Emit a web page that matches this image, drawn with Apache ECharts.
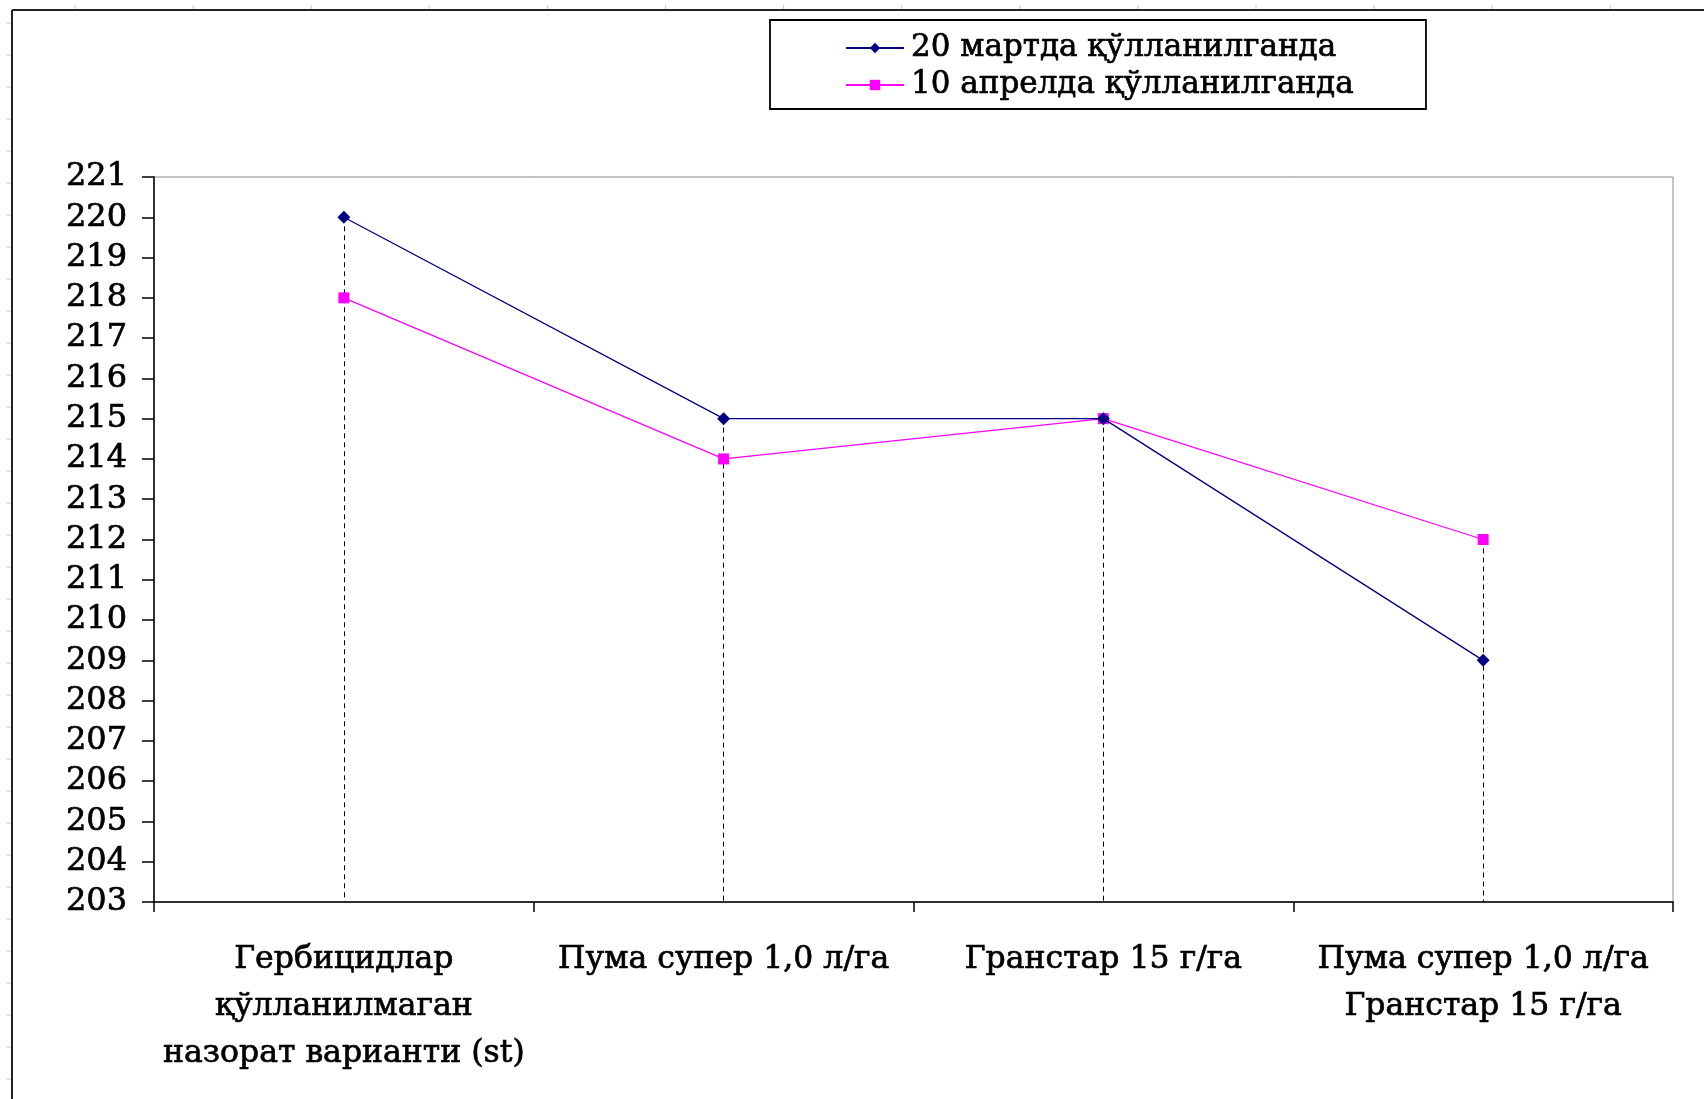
<!DOCTYPE html>
<html><head><meta charset="utf-8">
<script src="https://cdn.jsdelivr.net/npm/echarts@6/dist/echarts.min.js"></script>
<style>html,body{margin:0;padding:0;background:#fff}#c{width:1704px;height:1099px}</style>
</head><body><div id="c"></div>
<script>
const categories = [
  "Гербицидлар\nқўлланилмаган\nназорат варианти (st)",
  "Пума супер 1,0 л/га",
  "Гранстар 15 г/га",
  "Пума супер 1,0 л/га\nГранстар 15 г/га"
];
const seriesNames = ["20 мартда қўлланилганда", "10 апрелда қўлланилганда"];
const march20 = [220, 215, 215, 209];
const april10 = [218, 214, 215, 212];
const yMin = 203, yMax = 221, yStep = 1;

const FONT = "'DejaVu Serif','Liberation Serif',serif";
const HEAVY = {textBorderColor:'#000', textBorderWidth:0.7};
const chart = echarts.init(document.getElementById('c'));

// decorative page frame + faint ruler ticks
const graphics = [
  {type:'line', shape:{x1:12,y1:10,x2:1704,y2:10}, style:{stroke:'#222',lineWidth:2}},
  {type:'line', shape:{x1:12,y1:10,x2:12,y2:1099}, style:{stroke:'#222',lineWidth:2}}
];
for (let x = 75; x < 1704; x += 118.1) graphics.push({type:'line', shape:{x1:x,y1:5,x2:x,y2:9}, style:{stroke:'#c8c8c8',lineWidth:1}});
for (let y = 23; y < 1099; y += 32) graphics.push({type:'line', shape:{x1:6,y1:y,x2:11,y2:y}, style:{stroke:'#c8c8c8',lineWidth:1}});

const drops = categories.map((c, i) => [
  {coord:[i, Math.max(march20[i], april10[i])]},
  {coord:[i, yMin]}
]);

chart.setOption({
  backgroundColor:'#fff',
  animation:false,
  graphic: graphics,
  grid:{left:154, top:177, right:31, bottom:197, show:true, borderColor:'#888', borderWidth:1, backgroundColor:'transparent'},
  legend:{
    orient:'vertical', left:770, top:20,
    padding:[12, 72, 8, 75],
    itemGap:5, itemWidth:58, itemHeight:13,
    borderColor:'#000', borderWidth:1.8,
    textStyle:Object.assign({fontFamily:FONT, fontSize:31, color:'#000', lineHeight:32, padding:[0,0,0,2]}, HEAVY),
    data: seriesNames
  },
  xAxis:{
    type:'category', data:categories, boundaryGap:true,
    axisLine:{lineStyle:{color:'#000', width:1.5}},
    axisTick:{show:true, length:10, alignWithLabel:false, lineStyle:{color:'#000', width:1.5}},
    axisLabel:Object.assign({fontFamily:FONT, fontSize:31.5, color:'#000', lineHeight:47, margin:34, interval:0}, HEAVY)
  },
  yAxis:{
    type:'value', min:yMin, max:yMax, interval:yStep,
    axisLine:{show:true, lineStyle:{color:'#000', width:1.5}},
    axisTick:{show:true, length:12, lineStyle:{color:'#000', width:1.5}},
    splitLine:{show:false},
    axisLabel:Object.assign({fontFamily:FONT, fontSize:32, color:'#000', margin:27}, HEAVY)
  },
  series:[
    {
      name:seriesNames[0], type:'line', data:march20,
      symbol:'diamond', symbolSize:13, showSymbol:true,
      itemStyle:{color:'#000080'}, lineStyle:{color:'#000080', width:1.3}, z:3,
      markLine:{symbol:'none', silent:true, label:{show:false},
        lineStyle:{type:[5,4], color:'#000', width:1}, data:drops, z:1}
    },
    {
      name:seriesNames[1], type:'line', data:april10,
      symbol:'rect', symbolSize:11, showSymbol:true,
      itemStyle:{color:'#FF00FF'}, lineStyle:{color:'#FF00FF', width:1.3}, z:2
    }
  ]
});
</script></body></html>
